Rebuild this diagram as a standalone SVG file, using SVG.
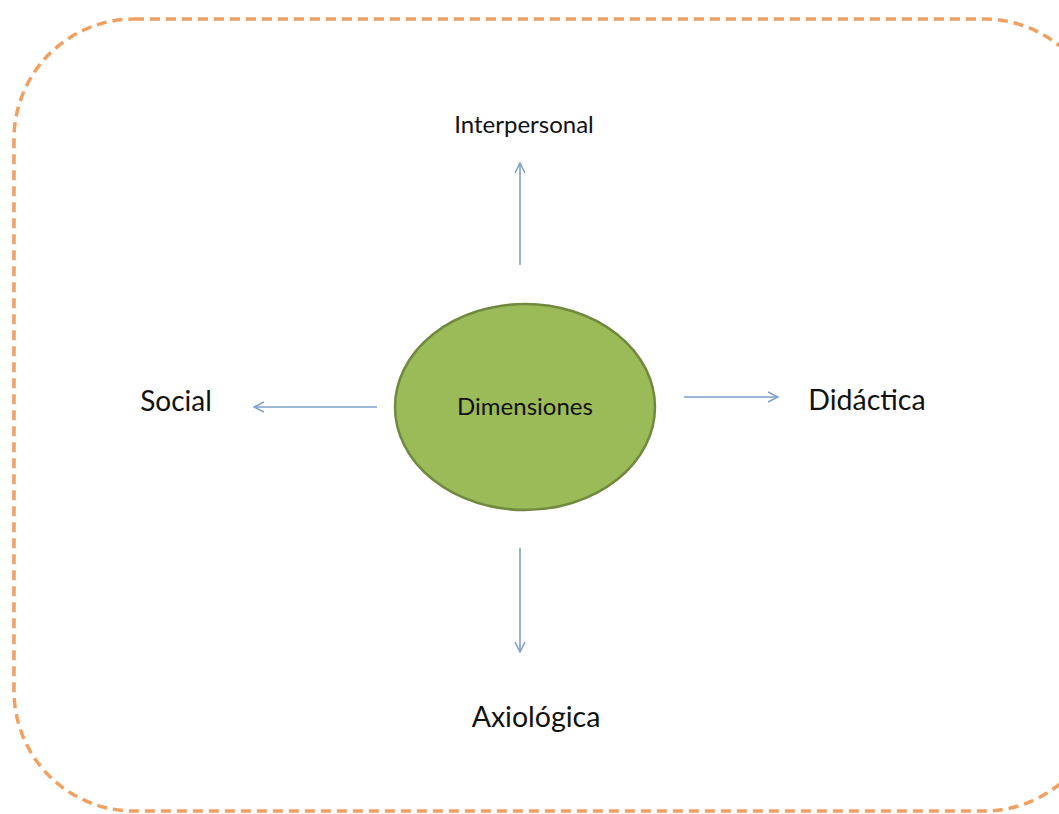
<svg xmlns="http://www.w3.org/2000/svg" width="1059" height="814" viewBox="0 0 1059 814">
<style>
.lbl{font-family:Lato,"Open Sans","Liberation Sans",sans-serif;fill:#111;text-anchor:middle}
.conn{stroke:#7F9FC9;stroke-width:1.6;fill:none}
</style>
<defs>
<marker id="arr" viewBox="0 0 12 12" refX="11" refY="6" markerWidth="12" markerHeight="12" markerUnits="userSpaceOnUse" orient="auto">
<path d="M1,1 L11,6 L1,11" fill="none" stroke="#7F9FC9" stroke-width="1.5"/>
</marker>
</defs>
<rect width="1059" height="814" fill="#fff"/>
<g id="frame">
<rect x="14" y="19" width="1090" height="792" rx="120" ry="120" fill="none" stroke="#F0A060" stroke-width="3.5" stroke-dasharray="10 6"/>
</g>
<g id="connectors">
<line class="conn" x1="520" y1="265" x2="520" y2="163" marker-end="url(#arr)"/>
<line class="conn" x1="377" y1="407" x2="254" y2="407" marker-end="url(#arr)"/>
<line class="conn" x1="684" y1="397" x2="778" y2="397" marker-end="url(#arr)"/>
<line class="conn" x1="520" y1="548" x2="520" y2="652" marker-end="url(#arr)"/>
</g>
<g id="center">
<ellipse cx="525" cy="407" rx="130" ry="103" fill="#9BBB59" stroke="#71893F" stroke-width="2.5"/>
<text class="lbl" x="525" y="415" font-size="24">Dimensiones</text>
</g>
<g id="interpersonal"><text class="lbl" x="524" y="133" font-size="24">Interpersonal</text></g>
<g id="social"><text class="lbl" x="176" y="411" font-size="28">Social</text></g>
<g id="didactica"><text class="lbl" x="867" y="410" font-size="28.5">Didáctica</text></g>
<g id="axiologica"><text class="lbl" x="536" y="727" font-size="28.5">Axiológica</text></g>
</svg>
